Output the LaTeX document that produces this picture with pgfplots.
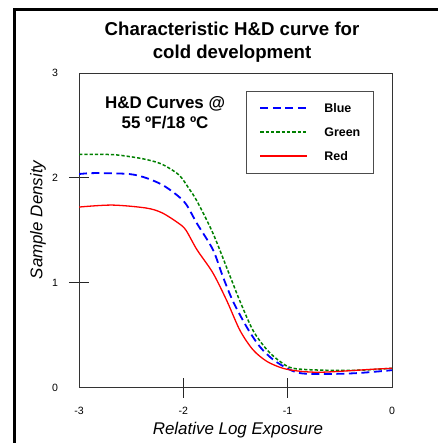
\documentclass[border=0pt]{standalone}
\usepackage{pgfplots}
\pgfplotsset{compat=1.18}
\usepackage{fontspec}
\setmainfont{Liberation Sans}
\definecolor{myblue}{RGB}{0,0,255}
\definecolor{mygreen}{RGB}{0,128,0}
\definecolor{myred}{RGB}{255,0,0}
\begin{document}
\begin{tikzpicture}
\path[use as bounding box] (-79bp,-55.3bp) rectangle (359bp,387.7bp);
\begin{scope}
\clip (-79bp,-55.3bp) rectangle (359bp,387.7bp);
\draw[line width=2.5bp] (-64.7bp,-80bp) rectangle (390bp,378.2bp);
\end{scope}
\begin{axis}[
  scale only axis, width=313bp, height=314.7bp,
  xmin=-3, xmax=0, ymin=0, ymax=3,
  xtick={-2,-1}, ytick={1,2},
  xticklabels={-2,-1}, yticklabels={1,2},
  extra x ticks={-3,0}, extra y ticks={0,3},
  extra x tick labels={-3,0}, extra y tick labels={0,3},
  extra tick style={tick style={draw=none}},
  tick align=center, major tick length=20bp, tick pos=left,
  tick style={black!85, line width=0.9bp},
  axis line style={black!80, line width=0.9bp},
  tick label style={font=\fontsize{10.6}{12}\selectfont},
  x tick label style={anchor=center, yshift=-13bp},
  y tick label style={anchor=center, xshift=-14bp},
  title={Characteristic H\&D curve for\\cold development},
  title style={font=\bfseries\fontsize{18.7}{23}\selectfont, align=center, at={(axis description cs:0.489,1)}, anchor=center, yshift=24.5bp, inner sep=0pt},
  xlabel={Relative Log Exposure},
  ylabel={Sample Density},
  label style={font=\itshape\fontsize{17}{20}\selectfont},
  xlabel style={at={(axis description cs:0.508,-0.134)}, anchor=center},
  ylabel style={at={(axis description cs:-0.131,0.533)}, anchor=center},
  legend style={at={(rel axis cs:0.534,0.944)}, anchor=north west, draw=black!70, line width=0.8bp,
    font=\bfseries\fontsize{12.5}{14}\selectfont, inner xsep=13bp, inner ysep=12.5bp,
    column sep=16bp, row sep=15bp, nodes={inner sep=0pt, text height=9bp, text depth=0pt}},
  legend cell align=left,
  legend image code/.code={\draw[#1] (0bp,0bp) -- (47bp,0bp);},
]
\addplot[myblue, line width=1.8bp, dash pattern=on 8bp off 4.5bp, smooth, tension=0.5] coordinates {
(-3,2.037) (-2.847,2.046) (-2.521,2.037) (-2.358,2.000) (-2.204,1.935) (-2.070,1.843)
(-1.974,1.750) (-1.869,1.565) (-1.716,1.315) (-1.620,1.056) (-1.524,0.824) (-1.390,0.574)
(-1.265,0.389) (-1.141,0.269) (-1.006,0.185) (-0.882,0.139) (-0.661,0.130) (-0.335,0.139) (0,0.167)
};
\addlegendentry{Blue}
\addplot[mygreen, line width=1.5bp, dash pattern=on 3.3bp off 2bp, smooth, tension=0.5] coordinates {
(-3,2.225) (-2.684,2.222) (-2.521,2.204) (-2.358,2.176) (-2.204,2.130) (-2.042,2.028)
(-1.946,1.898) (-1.869,1.778) (-1.716,1.472) (-1.553,1.065) (-1.457,0.824) (-1.332,0.546)
(-1.198,0.361) (-1.073,0.250) (-0.949,0.185) (-0.661,0.167) (-0.307,0.167) (0,0.185)
};
\addlegendentry{Green}
\addplot[myred, line width=1.3bp, smooth, tension=0.5] coordinates {
(-3,1.722) (-2.684,1.741) (-2.358,1.713) (-2.204,1.667) (-2.042,1.565) (-1.974,1.500)
(-1.869,1.315) (-1.716,1.093) (-1.581,0.824) (-1.457,0.546) (-1.332,0.361) (-1.198,0.250)
(-1.045,0.185) (-0.882,0.157) (-0.661,0.148) (-0.182,0.176) (0,0.185)
};
\addlegendentry{Red}
\node[font=\bfseries\fontsize{17}{20}\selectfont, align=center, inner sep=0pt] at (rel axis cs:0.275,0.874) {H\&D Curves @\\55 ºF/18 ºC};
\end{axis}
\end{tikzpicture}
\end{document}
